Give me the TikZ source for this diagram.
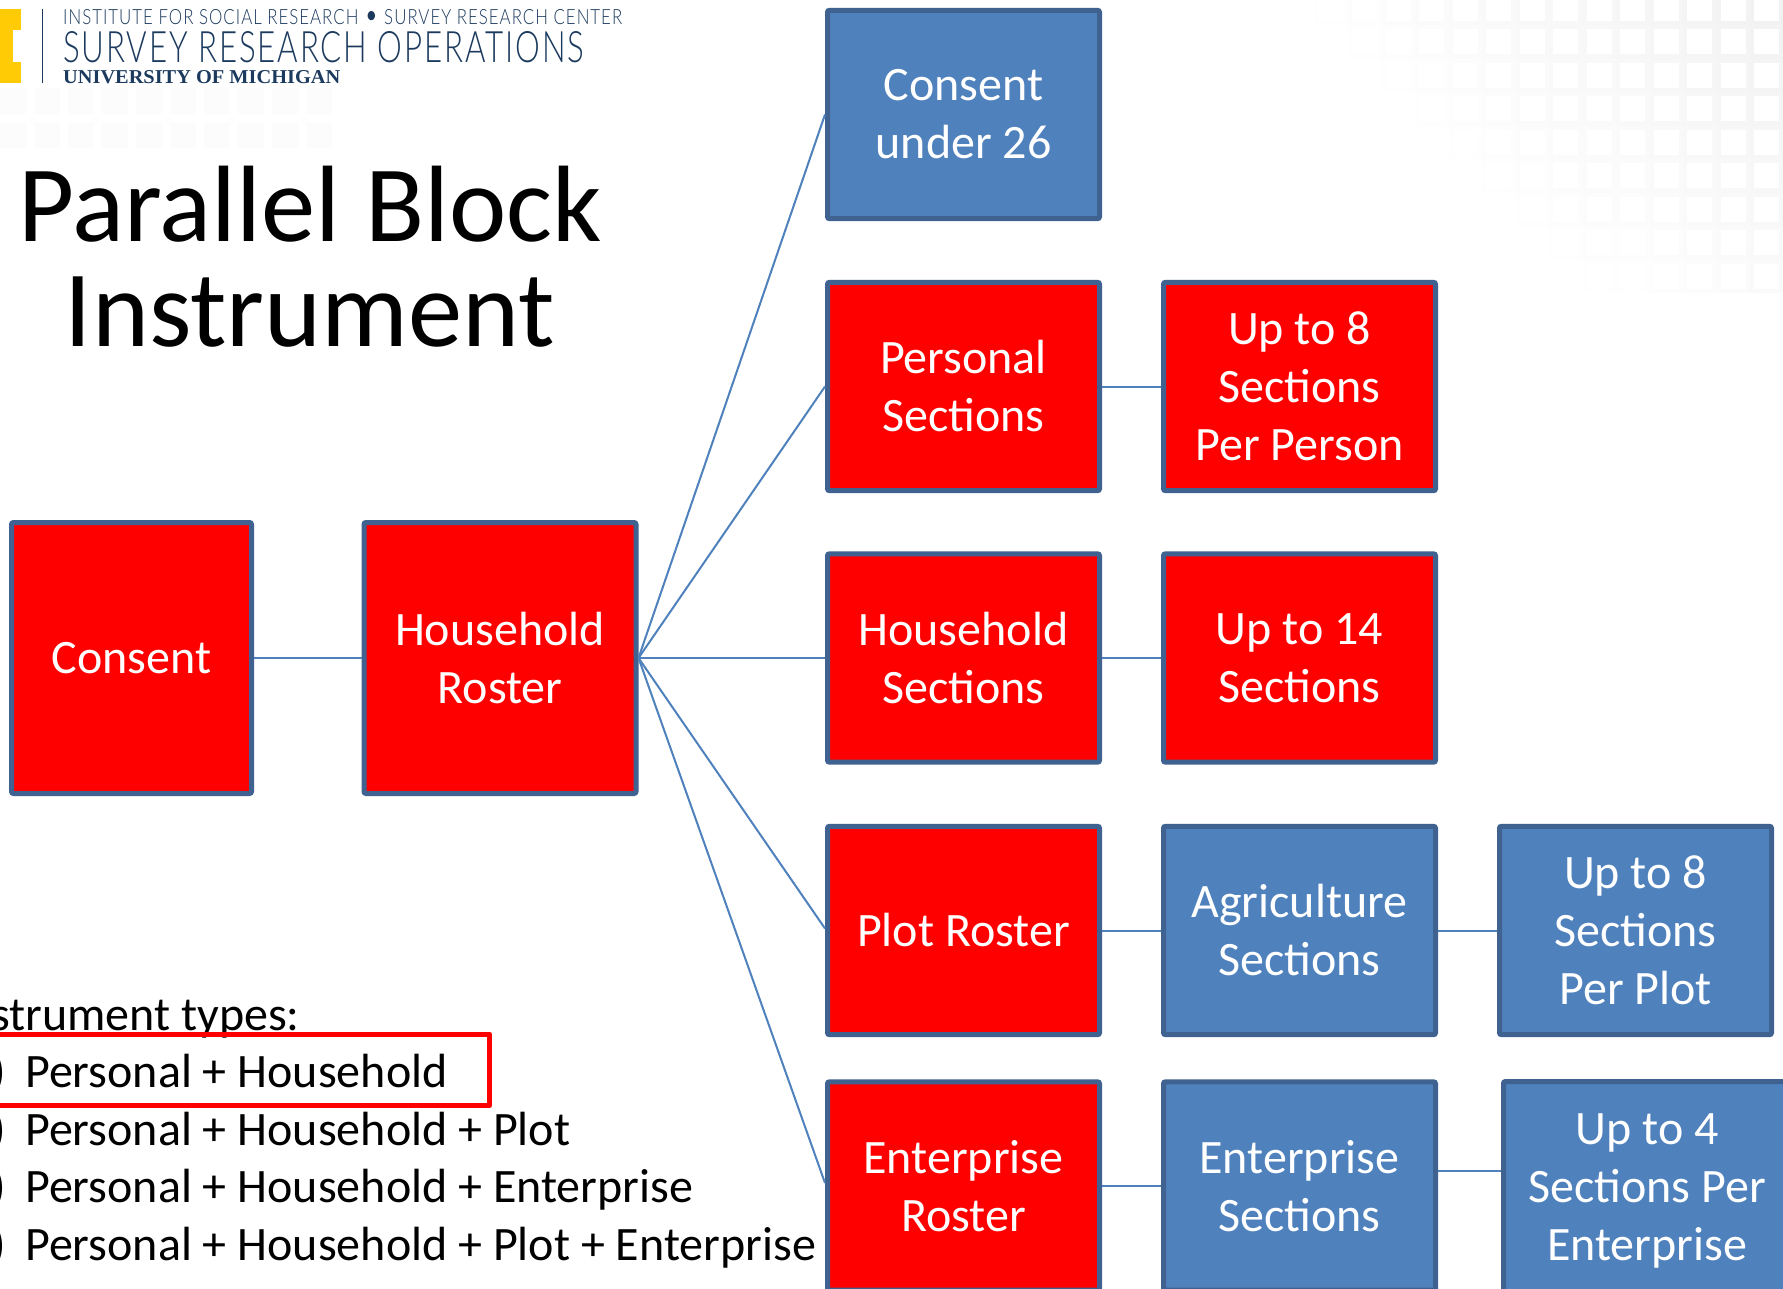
\documentclass[tikz,border=0pt]{standalone}
\usepackage{graphicx}
\usepackage{fontspec}
\setmainfont{Carlito}
\newfontfamily\logosans{Lato Light}[LetterSpace=6]
\newfontfamily\logoserif{Liberation Serif}
\definecolor{boxblue}{HTML}{4F81BD}
\definecolor{boxedge}{HTML}{3F6290}
\definecolor{navy}{HTML}{1B3A5E}
\definecolor{maize}{HTML}{FFCB05}
\tikzset{
  blockbase/.style={draw=boxedge,line width=5pt,rounded corners=2pt,minimum width=272pt,minimum height=208.4pt,align=center,text=white,font=\fontsize{48}{58}\selectfont,inner sep=0pt},
  redblock/.style={blockbase,fill=red},
  blueblock/.style={blockbase,fill=boxblue},
  link/.style={draw=boxblue,line width=2pt},
  listline/.style={anchor=base west,inner sep=0pt,font=\fontsize{48}{58}\selectfont,text=black},
  titleline/.style={anchor=base,inner sep=0pt,font=\fontsize{108.6}{107}\selectfont,text=black},
}
\begin{document}
\begin{tikzpicture}[x=1pt,y=-1pt]
\useasboundingbox (0,0) rectangle (1783,1289);
\fill[white] (0,0) rectangle (1783,1289);
% faint background tiles
\foreach \i in {0,...,14}{\foreach \j in {0,...,8}{
  \pgfmathsetmacro\fadeval{max(0,1-(\i+1.1*\j)/14.5)}
  \fill[black,opacity=0.05*\fadeval] (1750-\i*33.5,-8+\j*33.5) rectangle ++(33.5,33.5);
  \fill[white] (1754-\i*33.5,-4+\j*33.5) rectangle ++(25,25);
}}
\foreach \i in {0,...,9}{\foreach \j in {0,1}{
  \fill[black,opacity=0.012] (\i*34,88+\j*34) rectangle ++(26,26);
}}
% logo
\fill[maize] (0,9) rectangle (21,83);
\fill[white] (13,30) rectangle (21,62);
\draw[navy,line width=1pt] (42,9) -- (42,83);
\node[anchor=north west,inner sep=0pt,text=navy] (logoa) at (63,9) {\resizebox{559pt}{15pt}{\logosans INSTITUTE FOR SOCIAL RESEARCH \raisebox{-.08em}{\scalebox{1.5}{•}} SURVEY RESEARCH CENTER}};
\node[anchor=north west,inner sep=0pt,text=navy] (logob) at (63,31) {\resizebox{521pt}{31pt}{\logosans SURVEY RESEARCH OPERATIONS}};
\node[anchor=north west,inner sep=0pt,text=navy] (logoc) at (63,70) {\resizebox{277pt}{13pt}{\logoserif\bfseries UNIVERSITY OF MICHIGAN}};
% title
\node[titleline] (tone) at (310,242) {Parallel Block};
\node[titleline] (ttwo) at (310,346.5) {Instrument};
% list
\node[anchor=base east,inner sep=0pt,font=\fontsize{48}{58}\selectfont] (lhead) at (300,1030) {strument types:};
\node[listline] (la) at (25,1087) {Personal + Household};
\node[listline] (lb) at (25,1145) {Personal + Household + Plot};
\node[listline] (lc) at (25,1202.5) {Personal + Household + Enterprise};
\node[listline] (ld) at (25,1260) {Personal + Household + Plot + Enterprise};
\foreach \n/\y in {pa/1087,pb/1145,pc/1202.5,pd/1260}{
  \node[anchor=base east,inner sep=0pt,font=\fontsize{48}{58}\selectfont] (\n) at (6,\y) {)};}
\draw[red,line width=5pt,line join=round] (-20,1034) -- (489.5,1034) -- (489.5,1105.5) -- (-20,1105.5);
% boxes
\node[redblock,minimum width=240pt,minimum height=271pt] (consent) at (131.5,658) {Consent};
\node[redblock,minimum height=271pt] (roster) at (500,658) {Household\\Roster};
\node[blueblock] (under) at (963.5,114.5) {Consent\\under 26};
\node[redblock] (personal) at (963.5,386.5) {Personal\\Sections};
\node[redblock] (house) at (963.5,658) {Household\\Sections};
\node[redblock] (plot) at (963.5,930.5) {Plot Roster};
\node[redblock] (enter) at (963.5,1186) {Enterprise\\Roster};
\node[redblock] (upa) at (1299.5,386.5) {Up to 8\\Sections\\Per Person};
\node[redblock] (upb) at (1299.5,658) {Up to 14\\Sections};
\node[blueblock] (agri) at (1299.5,930.5) {Agriculture\\Sections};
\node[blueblock] (esec) at (1299.5,1186) {Enterprise\\Sections};
\node[blueblock] (upc) at (1635.5,930.5) {Up to 8\\Sections\\Per Plot};
\node[blueblock,minimum width=287pt,minimum height=219pt] (upd) at (1647,1191) {Up to 4\\Sections Per\\Enterprise};
\coordinate (ejoin) at (1470,1171);
% connectors
\draw[link] (consent.east) -- (roster.west);
\foreach \t in {under,personal,house}{\draw[link] (roster.east) -- (\t.west);}
\draw[link] (roster.east) -- ([yshift=2pt]plot.west);
\draw[link] (roster.east) -- ([yshift=3pt]enter.west);
\draw[link] (personal.east) -- (upa.west);
\draw[link] (house.east) -- (upb.west);
\draw[link] (plot.east) -- (agri.west);
\draw[link] (enter.east) -- (esec.west);
\draw[link] (agri.east) -- (upc.west);
\draw[link] (esec.east |- ejoin) -- (upd.west |- ejoin);
\end{tikzpicture}
\end{document}
